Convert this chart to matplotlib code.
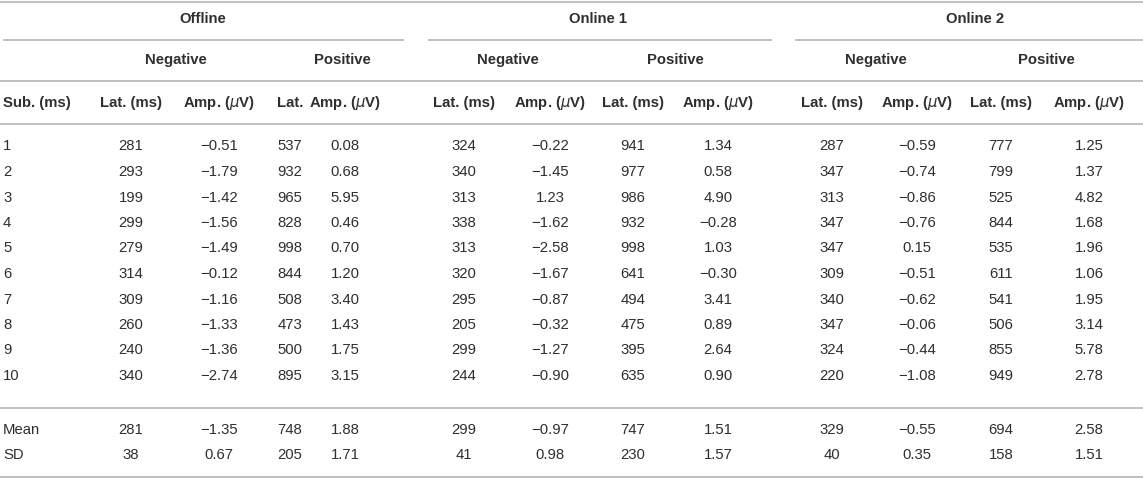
import matplotlib
matplotlib.use("Agg")
import matplotlib.pyplot as plt

plt.rcParams['font.family'] = ['Liberation Sans', 'DejaVu Sans']
plt.rcParams['mathtext.fontset'] = 'dejavusans'

# ---- data ----
subjects = ["1", "2", "3", "4", "5", "6", "7", "8", "9", "10"]
stat_labels = ["Mean", "SD"]

offline_neg_lat = [281, 293, 199, 299, 279, 314, 309, 260, 240, 340]
offline_neg_amp = [-0.51, -1.79, -1.42, -1.56, -1.49, -0.12, -1.16, -1.33, -1.36, -2.74]
offline_pos_lat = [537, 932, 965, 828, 998, 844, 508, 473, 500, 895]
offline_pos_amp = [0.08, 0.68, 5.95, 0.46, 0.70, 1.20, 3.40, 1.43, 1.75, 3.15]

online1_neg_lat = [324, 340, 313, 338, 313, 320, 295, 205, 299, 244]
online1_neg_amp = [-0.22, -1.45, 1.23, -1.62, -2.58, -1.67, -0.87, -0.32, -1.27, -0.90]
online1_pos_lat = [941, 977, 986, 932, 998, 641, 494, 475, 395, 635]
online1_pos_amp = [1.34, 0.58, 4.90, -0.28, 1.03, -0.30, 3.41, 0.89, 2.64, 0.90]

online2_neg_lat = [287, 347, 313, 347, 347, 309, 340, 347, 324, 220]
online2_neg_amp = [-0.59, -0.74, -0.86, -0.76, 0.15, -0.51, -0.62, -0.06, -0.44, -1.08]
online2_pos_lat = [777, 799, 525, 844, 535, 611, 541, 506, 855, 949]
online2_pos_amp = [1.25, 1.37, 4.82, 1.68, 1.96, 1.06, 1.95, 3.14, 5.78, 2.78]

mean_row = [281, -1.35, 748, 1.88, 299, -0.97, 747, 1.51, 329, -0.55, 694, 2.58]
sd_row = [38, 0.67, 205, 1.71, 41, 0.98, 230, 1.57, 40, 0.35, 158, 1.51]

conditions = ["Offline", "Online 1", "Online 2"]
polarities = ["Negative", "Positive"]
col_headers = ["Lat. (ms)", "Amp. ($\\mu$V)", "Lat.", "Amp. ($\\mu$V)",
               "Lat. (ms)", "Amp. ($\\mu$V)", "Lat. (ms)", "Amp. ($\\mu$V)",
               "Lat. (ms)", "Amp. ($\\mu$V)", "Lat. (ms)", "Amp. ($\\mu$V)"]
first_header = "Sub. (ms)"

columns = [offline_neg_lat, offline_neg_amp, offline_pos_lat, offline_pos_amp,
           online1_neg_lat, online1_neg_amp, online1_pos_lat, online1_pos_amp,
           online2_neg_lat, online2_neg_amp, online2_pos_lat, online2_pos_amp]
is_amp = [False, True] * 6

# ---- layout ----
W, H = 1143, 480
fig = plt.figure(figsize=(W / 100, H / 100), dpi=100)
ax = fig.add_axes([0, 0, 1, 1])
ax.set_xlim(0, W)
ax.set_ylim(H, 0)
ax.axis('off')

TXT = '#2f2f2f'
LINE = '#b4b4b4'
FS = 10.7

col_x = [131, 219, 290, 345, 464, 550, 633, 718, 832, 917, 1001, 1089]
cond_x = [203, 598, 975]
cond_spans = [(3, 404), (428, 772), (795, 1143)]
pol_x = [176, 342, 508, 675, 876, 1046]

y_h1, y_h2, y_h3 = 19, 60, 103
row_y0, row_dy = 146.5, 25.5
mean_y, sd_y = 430, 455


def fmt(v, amp):
    if amp:
        s = f"{abs(v):.2f}"
        return ("\u2212" + s) if v < 0 else s
    return f"{int(v)}"


# rules
for y in [2, 81, 124, 408, 477]:
    ax.plot([0, W], [y, y], color=LINE, lw=1.2, solid_capstyle='butt')
for (a, b) in cond_spans:
    ax.plot([a, b], [40, 40], color=LINE, lw=1.2, solid_capstyle='butt')

# headers
for name, x in zip(conditions, cond_x):
    ax.text(x, y_h1, name, ha='center', va='center', fontsize=FS, fontweight='bold', color=TXT)
for i, x in enumerate(pol_x):
    ax.text(x, y_h2, polarities[i % 2], ha='center', va='center', fontsize=FS, fontweight='bold', color=TXT)
ax.text(3, y_h3, first_header, ha='left', va='center', fontsize=FS, fontweight='bold', color=TXT)
for lab, x in zip(col_headers, col_x):
    ax.text(x, y_h3, lab, ha='center', va='center', fontsize=FS, fontweight='bold', color=TXT)

# body
for r, s in enumerate(subjects):
    y = row_y0 + r * row_dy
    ax.text(3, y, s, ha='left', va='center', fontsize=FS, color=TXT)
    for c, x in enumerate(col_x):
        ax.text(x, y, fmt(columns[c][r], is_amp[c]), ha='center', va='center', fontsize=FS, color=TXT)

for lab, vals, y in [(stat_labels[0], mean_row, mean_y), (stat_labels[1], sd_row, sd_y)]:
    ax.text(3, y, lab, ha='left', va='center', fontsize=FS, color=TXT)
    for c, x in enumerate(col_x):
        ax.text(x, y, fmt(vals[c], is_amp[c]), ha='center', va='center', fontsize=FS, color=TXT)

fig.savefig("out.png", dpi=100, facecolor='white')
